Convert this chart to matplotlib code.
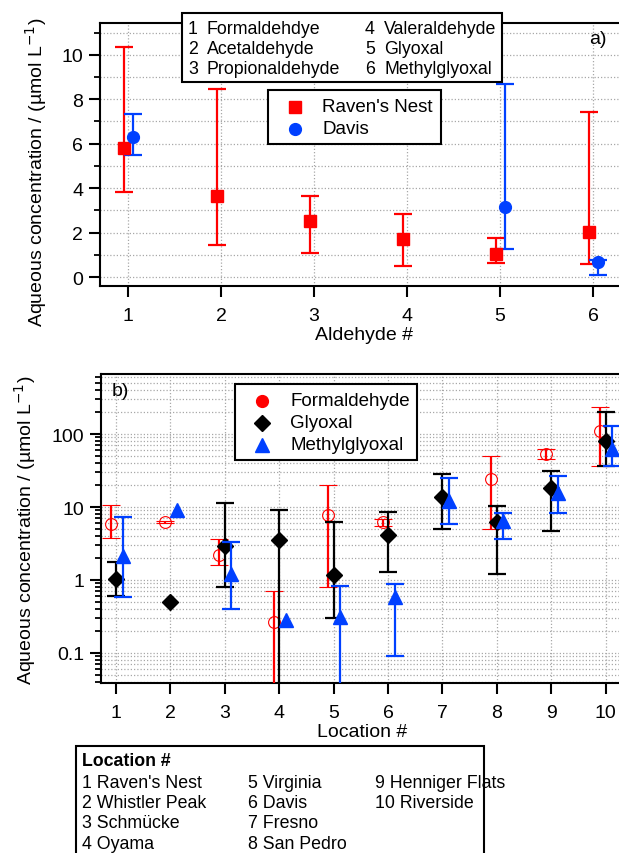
import numpy as np
import matplotlib
matplotlib.use("Agg")
import matplotlib.pyplot as plt
from matplotlib.lines import Line2D
from matplotlib.patches import Rectangle
from matplotlib.ticker import MultipleLocator, LogLocator, NullFormatter, FixedLocator

plt.rcParams['font.family'] = ['Liberation Sans', 'DejaVu Sans']

W, H = 619, 854

# ---- panel a: aldehydes at two sites ----
aldehyde_ids = [1, 2, 3, 4, 5, 6]
aldehyde_names = ["Formaldehdye", "Acetaldehyde", "Propionaldehyde",
                  "Valeraldehyde", "Glyoxal", "Methylglyoxal"]
rn_conc = [5.82, 3.64, 2.54, 1.73, 1.05, 2.03]
rn_lo = [3.82, 1.43, 1.09, 0.52, 0.63, 0.60]
rn_hi = [10.36, 8.46, 3.63, 2.85, 1.77, 7.41]

davis_ids = [1, 5, 6]
davis_conc = [6.29, 3.14, 0.70]
davis_lo = [5.51, 1.27, 0.10]
davis_hi = [7.34, 8.67, 0.76]

# ---- panel b: three carbonyls at ten locations ----
loc_ids = [1, 2, 3, 4, 5, 6, 7, 8, 9, 10]
loc_names = ["Raven's Nest", "Whistler Peak", "Schmücke", "Oyama", "Virginia",
             "Davis", "Fresno", "San Pedro", "Henniger Flats", "Riverside"]
nan = np.nan
form_conc = [5.8, 6.2, 2.17, 0.264, 7.7, 6.3, nan, 24.1, 53.0, 111.0]
form_lo = [3.76, 6.0, 1.58, 0.01, 0.80, 5.45, nan, 5.06, 45.3, 36.0]
form_hi = [10.6, 6.5, 3.6, 0.70, 20.1, 6.9, nan, 50.3, 62.0, 232.0]

glyox_conc = [1.04, 0.50, 2.92, 3.49, 1.18, 4.2, 13.5, 6.3, 18.5, 81.0]
glyox_lo = [0.60, nan, 0.79, 0.01, 0.30, 1.28, 5.06, 1.19, 4.7, 37.0]
glyox_hi = [1.76, nan, 11.2, 9.1, 6.2, 8.6, 28.2, 10.4, 31.3, 199.0]

mgly_conc = [2.13, 9.1, 1.22, 0.287, 0.31, 0.59, 12.1, 6.4, 15.8, 62.0]
mgly_lo = [0.59, nan, 0.40, nan, 0.01, 0.09, 5.8, 3.7, 8.4, 36.0]
mgly_hi = [7.3, nan, 3.35, nan, 0.82, 0.87, 24.8, 8.4, 26.7, 130.0]

RED = '#ff0000'
BLUE = '#0040ff'
GRID = dict(color='#a8a8a8', linestyle=(0, (1, 1.6)), linewidth=0.9)
EB = dict(elinewidth=1.6, capsize=6.5, capthick=1.6)


def fx(px):
    return px / W


def fy(py):
    return 1 - py / H


def errs(conc, lo, hi):
    conc = np.asarray(conc, float)
    return [conc - np.asarray(lo, float), np.asarray(hi, float) - conc]


def style_axes(ax):
    for s in ['left', 'bottom', 'top']:
        ax.spines[s].set_linewidth(1.5)
    ax.spines['right'].set_visible(False)
    ax.tick_params(which='major', direction='out', length=8, width=1.5,
                   labelsize=14, pad=4)
    ax.tick_params(which='minor', direction='out', length=4.5, width=1.3)
    ax.tick_params(axis='x', which='major', length=8, pad=7)
    ax.grid(True, which='both', **GRID)
    ax.set_axisbelow(True)


fig = plt.figure(figsize=(W / 100, H / 100), dpi=100)

# panel a
ax1 = fig.add_axes([fx(100), fy(287), fx(622) - fx(100), fy(24) - fy(287)])
ax1.errorbar(np.array(aldehyde_ids) - 0.045, rn_conc, yerr=errs(rn_conc, rn_lo, rn_hi),
             fmt='s', color=RED, ms=8.5, zorder=3, **EB)
ax1.errorbar(np.array(davis_ids) + 0.05, davis_conc, yerr=errs(davis_conc, davis_lo, davis_hi),
             fmt='o', color=BLUE, ms=8.5, zorder=3, **EB)
ax1.set_xlim(0.699, 6.31)
ax1.set_ylim(-0.40, 11.43)
ax1.xaxis.set_major_locator(FixedLocator(aldehyde_ids))
ax1.yaxis.set_major_locator(MultipleLocator(2))
ax1.yaxis.set_minor_locator(MultipleLocator(1))
style_axes(ax1)
ax1.text(fx(598), fy(40), "a)", transform=fig.transFigure, ha='center', va='center',
         fontsize=14)

# panel b
ax2 = fig.add_axes([fx(101), fy(684), fx(622) - fx(101), fy(375) - fy(684)])
ax2.set_yscale('log')
ax2.errorbar(np.array(loc_ids) - 0.1, form_conc, yerr=errs(form_conc, form_lo, form_hi),
             fmt='o', color=RED, mfc='none', mec=RED, mew=0.8, ms=8.5, zorder=3, **EB)
ax2.errorbar(np.array(loc_ids), glyox_conc, yerr=errs(glyox_conc, glyox_lo, glyox_hi),
             fmt='D', color='black', ms=8.5, zorder=4, **EB)
ax2.errorbar(np.array(loc_ids) + 0.12, mgly_conc, yerr=errs(mgly_conc, mgly_lo, mgly_hi),
             fmt='^', color=BLUE, ms=10, zorder=5, **EB)
ax2.set_xlim(0.724, 10.3)
ax2.set_ylim(0.0388, 664)
ax2.xaxis.set_major_locator(FixedLocator(loc_ids))
ax2.yaxis.set_major_locator(FixedLocator([0.1, 1, 10, 100]))
ax2.yaxis.set_minor_locator(LogLocator(base=10, subs=np.arange(2, 10)))
ax2.yaxis.set_minor_formatter(NullFormatter())
ax2.set_yticklabels(['0.1', '1', '10', '100'])
style_axes(ax2)
ax2.text(fx(120), fy(392), "b)", transform=fig.transFigure, ha='center', va='center',
         fontsize=14)

# axis titles
ylab = "Aqueous concentration / (µmol L$^{-1}$)"
fig.text(fx(36), fy(172), ylab, rotation=90, ha='center', va='center', fontsize=14)
fig.text(fx(25), fy(530), ylab, rotation=90, ha='center', va='center', fontsize=14)
fig.text(fx(364), fy(336), "Aldehyde #", ha='center', va='center', fontsize=14)
fig.text(fx(362), fy(733), "Location #", ha='center', va='center', fontsize=14)


def box(x0, y0, x1, y1):
    fig.patches.append(Rectangle((fx(x0), fy(y1)), fx(x1) - fx(x0), fy(y0) - fy(y1),
                                 transform=fig.transFigure, facecolor='white',
                                 edgecolor='black', linewidth=1.5, zorder=10))


def marker(px, py, **kw):
    fig.add_artist(Line2D([fx(px)], [fy(py)], transform=fig.transFigure,
                          linestyle='none', zorder=11, **kw))


# aldehyde number key
box(182, 14, 502, 83)
rows_a = [29, 49.5, 70]
for i, name in enumerate(aldehyde_names):
    col, row = divmod(i, 3)
    xn = [188, 365][col]
    xt = [206.5, 384][col]
    fig.text(fx(xn), fy(rows_a[row]), str(aldehyde_ids[i]), ha='left', va='center',
             fontsize=12.8, zorder=12)
    fig.text(fx(xt), fy(rows_a[row]), name, ha='left', va='center', fontsize=12.8,
             zorder=12)

# site legend for panel a
box(268, 91, 441, 145)
marker(295, 108, marker='s', color=RED, ms=8.5)
marker(295, 130, marker='o', color=BLUE, ms=8.5)
fig.text(fx(322), fy(108), "Raven's Nest", ha='left', va='center', fontsize=13.5, zorder=12)
fig.text(fx(322), fy(130), "Davis", ha='left', va='center', fontsize=13.5, zorder=12)

# species legend for panel b
box(235, 385, 417, 461)
marker(262, 402, marker='o', color=RED, ms=8.5)
marker(262, 424, marker='D', color='black', ms=8.5)
marker(262, 446, marker='^', color=BLUE, ms=10)
fig.text(fx(290), fy(402), "Formaldehyde", ha='left', va='center', fontsize=13.5, zorder=12)
fig.text(fx(290), fy(424), "Glyoxal", ha='left', va='center', fontsize=13.5, zorder=12)
fig.text(fx(290), fy(446), "Methylglyoxal", ha='left', va='center', fontsize=13.5, zorder=12)

# location key
box(76, 747, 484, 870)
fig.text(fx(82), fy(762), "Location #", ha='left', va='center', fontsize=12.8,
         fontweight='bold', zorder=12)
rows_b = [783.5, 803.5, 824, 844.5]
cols_b = [82, 248, 375]
for i, name in enumerate(loc_names):
    col, row = divmod(i, 4)
    fig.text(fx(cols_b[col]), fy(rows_b[row]), f"{loc_ids[i]} {name}", ha='left',
             va='center', fontsize=12.8, zorder=12)

fig.savefig("out.png", dpi=100)
